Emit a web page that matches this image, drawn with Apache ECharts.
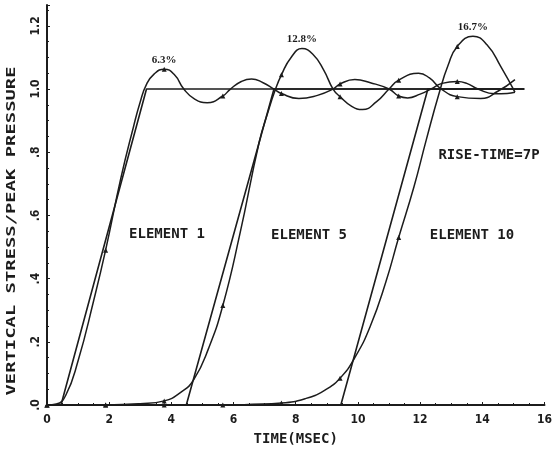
<!DOCTYPE html>
<html>
<head>
<meta charset="utf-8">
<script src="https://cdn.jsdelivr.net/npm/echarts@6/dist/echarts.min.js"></script>
<style>
  html, body { margin: 0; padding: 0; background: #fff; }
  #chart { width: 555px; height: 455px; }
</style>
</head>
<body>
<div id="chart"></div>
<script>
// Times (msec) at which the plotter printed a step marker on each response curve
const markTimes = [0, 1.885, 3.77, 5.655, 7.54, 9.425, 11.31, 13.195];

// Applied pressure ramps: linear rise, then hold at peak pressure
const ramp1 = [[0, 0], [0.45, 0], [3.2, 1.0], [15.35, 1.0]];
const ramp5 = [[0, 0], [4.48, 0], [7.3, 1.0], [15.35, 1.0]];
const ramp10 = [[0, 0], [9.45, 0], [12.25, 1.0], [15.35, 1.0]];

// Computed vertical stress / peak pressure, element 1
const elem1 = [
  [0, 0], [0.3, 0.003], [0.6, 0.03], [1.0, 0.14], [1.5, 0.33], [1.885, 0.49],
  [2.38, 0.72], [2.78, 0.88], [3.0, 0.96], [3.2, 1.015], [3.45, 1.048], [3.77, 1.063],
  [4.1, 1.045], [4.4, 1.0], [4.75, 0.968], [5.15, 0.957], [5.655, 0.978],
  [5.9, 1.0], [6.25, 1.024], [6.58, 1.032], [6.95, 1.02], [7.3, 1.0],
  [7.54, 0.986], [8.1, 0.97], [8.7, 0.98], [9.2, 1.0], [9.425, 1.016],
  [9.9, 1.03], [10.4, 1.02], [11.0, 1.0], [11.31, 0.978], [11.6, 0.972],
  [12.0, 0.984], [12.35, 1.0], [12.7, 1.018], [13.195, 1.024], [13.5, 1.018],
  [13.86, 1.0], [14.4, 0.985], [14.8, 0.986], [15.05, 0.99]
];

// Computed vertical stress / peak pressure, element 5
const elem5 = [
  [0, 0], [1.885, 0], [3.0, 0.004], [3.77, 0.013], [4.3, 0.04], [4.72, 0.08],
  [5.2, 0.18], [5.655, 0.315], [6.2, 0.54], [6.82, 0.83], [7.1, 0.925],
  [7.35, 1.0], [7.54, 1.045], [7.85, 1.1], [8.2, 1.128], [8.55, 1.11],
  [8.9, 1.06], [9.2, 1.0], [9.425, 0.976], [9.8, 0.945], [10.15, 0.935],
  [10.6, 0.96], [11.0, 1.0], [11.31, 1.028], [11.95, 1.05], [12.3, 1.035],
  [12.68, 1.0], [13.195, 0.976], [13.95, 0.97], [14.5, 0.993], [15.05, 1.03]
];

// Computed vertical stress / peak pressure, element 10
const elem10 = [
  [0, 0], [1.885, 0], [3.77, 0], [5.655, 0], [6.6, 0.002], [7.54, 0.006],
  [8.3, 0.02], [8.9, 0.045], [9.425, 0.085], [9.9, 0.15], [10.4, 0.25],
  [10.9, 0.39], [11.31, 0.53], [11.8, 0.69], [12.2, 0.84], [12.62, 0.99],
  [12.9, 1.075], [13.195, 1.135], [13.7, 1.167], [14.15, 1.14], [14.6, 1.07],
  [15.05, 0.99]
];

const INK = '#1c1c1c';
const MONO = '"DejaVu Sans Mono", "Liberation Mono", monospace';

function isMarkTime(t) {
  return markTimes.some(m => Math.abs(m - t) < 1e-6);
}

// Curve points carry a small arrowhead only at the plotter's step times
function curvePoints(points) {
  return points.map(p => ({
    value: p,
    symbol: isMarkTime(p[0]) ? 'triangle' : 'none',
    symbolSize: 5
  }));
}

function rampSeries(name, data) {
  return {
    name, type: 'line', data,
    showSymbol: false, silent: true,
    lineStyle: { color: INK, width: 1.6 },
    z: 2
  };
}

function curveSeries(name, data) {
  return {
    name, type: 'line',
    data: curvePoints(data),
    smooth: 0.5,
    showSymbol: true,
    itemStyle: { color: INK },
    lineStyle: { color: INK, width: 1.5 },
    z: 3,
    // overshoot above peak pressure, printed over the highest point
    markPoint: {
      symbol: 'circle', symbolSize: 1,
      itemStyle: { color: 'rgba(0,0,0,0)' },
      data: [{ type: 'max', valueDim: 'y' }],
      label: {
        show: true, position: 'top', distance: 3,
        color: INK, fontFamily: '"Liberation Serif", serif',
        fontWeight: 'bold', fontSize: 11,
        formatter: p => ((p.value - 1) * 100).toFixed(1) + '%'
      }
    }
  };
}

const chart = echarts.init(document.getElementById('chart'), null, { renderer: 'canvas' });

const yTick = v => {
  const k = v / 0.2;
  if (Math.abs(k - Math.round(k)) > 1e-6) return '';
  const s = v.toFixed(1);
  return v < 1 ? s.replace(/^0/, '') : s;
};

const annotation = (text, x, y) => ({
  type: 'text', x, y,
  style: { text, align: 'center', verticalAlign: 'middle', font: 'bold 14px ' + MONO, fill: INK }
});

chart.setOption({
  animation: false,
  backgroundColor: '#fff',
  grid: { left: 47, right: 10, top: 5, bottom: 50 },
  xAxis: {
    type: 'value', min: 0, max: 16, interval: 2,
    name: 'TIME(MSEC)', nameLocation: 'middle', nameGap: 27,
    nameTextStyle: { color: INK, fontFamily: MONO, fontWeight: 'bold', fontSize: 14 },
    axisLine: { show: true, lineStyle: { color: INK, width: 2 } },
    axisTick: { show: true, inside: true, length: 3, lineStyle: { color: INK } },
    minorTick: { show: true, splitNumber: 4, length: 2, lineStyle: { color: INK } },
    splitLine: { show: false },
    axisLabel: {
      color: INK, fontFamily: '"DejaVu Sans Condensed", sans-serif',
      fontWeight: 'bold', fontSize: 12, margin: 9
    }
  },
  yAxis: {
    type: 'value', min: 0, max: 1.266, interval: 0.2,
    axisLine: { show: true, lineStyle: { color: INK, width: 2 } },
    axisTick: { show: true, inside: true, length: 3, lineStyle: { color: INK } },
    minorTick: { show: true, splitNumber: 4, length: 2, lineStyle: { color: INK } },
    splitLine: { show: false },
    axisLabel: {
      rotate: 90, margin: 5, color: INK,
      fontFamily: '"DejaVu Sans Condensed", sans-serif', fontWeight: 'bold', fontSize: 12,
      formatter: yTick
    }
  },
  graphic: [
    {
      type: 'text', x: 12, y: 231, rotation: Math.PI / 2, scaleX: 1.45,
      style: {
        text: 'VERTICAL STRESS/PEAK PRESSURE', align: 'center', verticalAlign: 'middle',
        font: 'bold 13px ' + MONO, fill: INK
      }
    },
    annotation('ELEMENT 1', 167, 234),
    annotation('ELEMENT 5', 309, 235),
    annotation('ELEMENT 10', 472, 235),
    annotation('RISE-TIME=7P', 489, 155)
  ],
  series: [
    rampSeries('ramp 1', ramp1),
    rampSeries('ramp 5', ramp5),
    rampSeries('ramp 10', ramp10),
    curveSeries('element 1', elem1),
    curveSeries('element 5', elem5),
    curveSeries('element 10', elem10)
  ]
});
</script>
</body>
</html>
